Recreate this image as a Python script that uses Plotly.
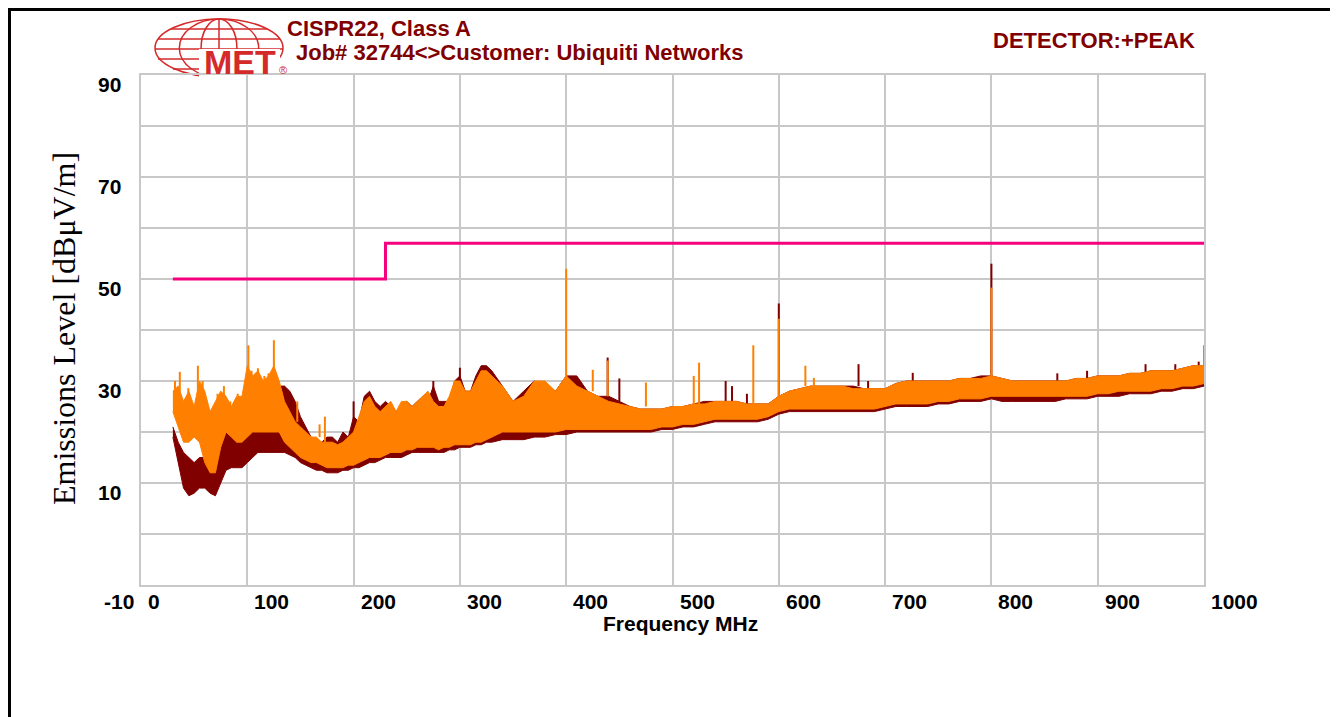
import plotly.graph_objects as go

# ---------------- data ----------------
freq_mhz = [30, 35, 40, 45, 50, 55, 60, 65, 70, 75, 80, 85, 90, 95, 100, 105, 110, 115, 120, 125,
            130, 135, 140, 145, 150, 155, 160, 165, 170, 175, 180, 185, 190, 195, 200, 205, 210, 215,
            220, 225, 230, 235, 240, 245, 250, 255, 260, 265, 270, 275, 280, 285, 290, 295, 300, 305,
            310, 315, 320, 325, 330,
            340, 350, 360, 370, 380, 390, 400, 410, 420, 430, 440, 450, 460, 470, 480, 490, 500, 510,
            520, 530, 540, 550, 560, 570, 580, 590, 600, 610, 620, 630, 640, 650, 660, 670, 680, 690,
            700, 710, 720, 730, 740, 750, 760, 770, 780, 790, 800, 810, 820, 830, 840, 850, 860, 870,
            880, 890, 900, 910, 920, 930, 940, 950, 960, 970, 980, 990, 1000]

orange_top = [28, 29, 26, 28, 25, 30, 28, 24, 26, 28, 27, 25, 27, 27, 33, 31, 32, 30, 31, 33,
              30, 26, 24, 22, 21, 20, 19, 19, 18, 18, 18, 17.5, 18, 19, 20, 23, 26, 27,
              25, 24, 25, 26, 24, 26, 26, 25, 26, 27, 28, 26, 25, 25, 27, 30, 30, 28,
              28, 30, 32, 32, 31,
              29, 26, 27, 30, 30, 28, 31, 29, 28, 27, 26, 25.5, 25, 24.5, 24.5, 24.5, 25, 25,
              25.5, 25.5, 26, 26, 26, 25.5, 25.5, 25.5, 27, 28, 28.5, 29, 29, 29, 29, 28.5, 28.5, 28.5,
              28.5, 29.5, 30, 30, 30, 30, 30, 30.5, 30.5, 30.5, 31, 30.5, 30, 30, 30, 30, 30, 30,
              30.5, 30.5, 31, 31, 31, 31.5, 31.5, 32, 32, 32, 32.5, 33, 33]

orange_bot = [24, 21, 18, 18, 19, 18, 14, 12, 12, 17, 20, 19, 18, 18, 19, 20, 20, 20, 20, 20,
              20, 18, 17, 16, 15, 14.5, 14, 14, 13.5, 13, 13, 13, 13, 13.5, 13.5, 14, 14.5, 15,
              15, 15, 15.5, 16, 16, 16, 16.5, 16.5, 17, 17, 17, 17, 16.5, 17, 17, 17.5, 17.5, 17.5,
              17.5, 18, 18, 18.5, 19,
              20, 20, 20, 20, 20, 20, 20.5, 20.5, 20.5, 20.5, 20.5, 20.5, 20.5, 20.5, 20.5, 21, 21, 21.5,
              21.5, 22, 22.5, 22.5, 22.5, 22.5, 22.5, 23, 24, 24.5, 24.5, 24.5, 24.5, 24.5, 24.5, 24.5, 24.5, 24.5,
              25, 25.5, 25.5, 25.5, 25.5, 26, 26, 26.5, 26.5, 26.5, 27, 27, 27, 27, 27, 27, 27, 27,
              27, 27, 27.5, 27.5, 28, 28, 28, 28, 28.5, 28.5, 29, 29, 29.5]

darkred_top = [21, 18, 16, 15, 14, 15, 15, 17, 18, 18, 20, 21, 21, 21, 21, 24, 26, 27, 26, 27,
               29, 29, 28, 26, 23, 21, 19, 18, 18, 19, 19, 18, 20, 19, 23, 22, 27, 28,
               26, 25, 26, 25, 24, 25, 26, 25, 26, 27, 26, 29, 26, 26, 26, 30, 31, 28,
               28, 31, 33, 33, 32,
               29, 26, 28, 30, 29, 28, 31, 31, 28, 27, 27, 26, 25, 24.5, 24.5, 24.5, 25, 25,
               25.5, 26, 26, 26, 26, 25.5, 25.5, 25.5, 27, 28, 28.5, 29, 29, 29, 29, 29, 28.5, 28.5,
               28.5, 29.5, 30, 30, 30, 30, 30, 30.5, 30.5, 31, 31, 30.5, 30, 30, 30, 30, 30, 30,
               30.5, 30.5, 31, 31, 31, 31.5, 31.5, 32, 32, 32, 32.5, 33, 33]

darkred_bot = [19, 14, 9, 7.5, 8, 9, 9, 8, 7.5, 10, 12.5, 13, 13, 13, 14, 15, 16, 16, 16, 16,
               16, 16, 15.5, 15, 14, 13.5, 13, 12.5, 12.5, 12, 12, 12, 12.5, 12.5, 13, 13, 13.5, 14,
               14, 14.5, 15, 15, 15, 15, 15.5, 16, 16, 16, 16, 16, 16, 16, 16.5, 16.5, 17, 17,
               17, 17.5, 17.5, 18, 18,
               18.5, 18.5, 18.5, 19, 19, 19.5, 19.5, 20, 20, 20, 20, 20, 20, 20, 20, 20.5, 20.5, 21,
               21, 21.5, 22, 22, 22, 22, 22, 22.5, 23.5, 24, 24, 24, 24, 24, 24, 24, 24, 24,
               24.5, 25, 25, 25, 25, 25.5, 25.5, 26, 26, 26, 26.5, 26, 26, 26, 26, 26, 26, 26.5,
               26.5, 26.5, 27, 27, 27, 27.5, 27.5, 27.5, 28, 28, 28.5, 28.5, 29]

# narrow emission spikes (frequency, spike base, spike peak)
orange_spike_freq = [32, 36.5, 44.5, 53.5, 58, 72, 78, 84, 91, 101, 104, 110, 116, 120, 125,
                     147, 168, 173, 400, 425, 439, 475, 520, 525, 576, 600, 625, 633, 800, 1000]
orange_spike_base = [26, 26, 25, 25, 26, 24, 25, 24, 25, 30, 29, 29, 28, 29, 30,
                     22, 19, 18, 30, 28, 27, 25, 25, 25.5, 25.5, 26, 29, 29, 30, 33]
orange_spike_peak = [30, 31.8, 28.6, 33, 30, 27.5, 29, 26, 27.5, 37, 32, 32.5, 31, 31.5, 38,
                     26, 21.5, 23, 52, 32.2, 34, 29.7, 31, 33.6, 37, 42.2, 33, 30.6, 48.3, 37]

darkred_spike_freq = [200, 275, 300, 439, 450, 550, 556, 570, 600, 675, 684, 726, 800,
                      862, 890, 945, 973, 995]
darkred_spike_base = [20, 26, 30, 27, 26, 26, 26, 25.5, 26, 29, 28.5, 30, 30,
                      30, 30.5, 31.5, 32, 33]
darkred_spike_peak = [26, 30, 32.6, 34.6, 30.5, 30, 29, 27.5, 45.2, 33.3, 30, 31.6, 53,
                      31.5, 32, 33.3, 33.3, 33.8]

# CISPR22 Class A limit
limit_freq = [30, 230, 230, 1000]
limit_level = [50, 50, 57, 57]

# axis ticks
x_ticks = [0, 100, 200, 300, 400, 500, 600, 700, 800, 900, 1000]
y_ticks = [90, 70, 50, 30, 10]

# ---------------- styling / layout helpers ----------------
FIG_W, FIG_H = 1338, 717
OFF = 8  # page body margin: screen pixel = figure pixel + OFF
L, R, T, B = 141 - OFF, 1204 - OFF, 75 - OFF, 585 - OFF
PW, PH = R - L, B - T

def px(xs):
    """screen x pixel -> paper fraction"""
    return (xs - OFF - L) / PW

def py(ys):
    """screen y pixel -> paper fraction"""
    return (B - (ys - OFF)) / PH

DARKRED = "#800000"
ORANGE = "#FF8000"
LIMIT = "#F5007F"
TITLE_RED = "#800000"
GRID = "#C8C8C8"
LOGO_RED = "#D42A2A"


def spikes(freqs, bases, peaks):
    xs, ys = [], []
    for f, b, p in zip(freqs, bases, peaks):
        xs += [f, f, None]
        ys += [b, p, None]
    return xs, ys


fig = go.Figure()

# dark red band
fig.add_trace(go.Scatter(x=freq_mhz, y=darkred_bot, mode="lines",
                         line=dict(color=DARKRED, width=1), hoverinfo="skip", showlegend=False))
fig.add_trace(go.Scatter(x=freq_mhz, y=darkred_top, mode="lines", fill="tonexty",
                         fillcolor=DARKRED, line=dict(color=DARKRED, width=1),
                         hoverinfo="skip", showlegend=False))
sx, sy = spikes(darkred_spike_freq, darkred_spike_base, darkred_spike_peak)
fig.add_trace(go.Scatter(x=sx, y=sy, mode="lines", line=dict(color=DARKRED, width=2),
                         hoverinfo="skip", showlegend=False))

# orange band
fig.add_trace(go.Scatter(x=freq_mhz, y=orange_bot, mode="lines",
                         line=dict(color=ORANGE, width=1), hoverinfo="skip", showlegend=False))
fig.add_trace(go.Scatter(x=freq_mhz, y=orange_top, mode="lines", fill="tonexty",
                         fillcolor=ORANGE, line=dict(color=ORANGE, width=1),
                         hoverinfo="skip", showlegend=False))
sx, sy = spikes(orange_spike_freq, orange_spike_base, orange_spike_peak)
fig.add_trace(go.Scatter(x=sx, y=sy, mode="lines", line=dict(color=ORANGE, width=2),
                         hoverinfo="skip", showlegend=False))

# limit line
fig.add_trace(go.Scatter(x=limit_freq, y=limit_level, mode="lines",
                         line=dict(color=LIMIT, width=3), hoverinfo="skip", showlegend=False))

annotations = []
tick_font = dict(family="Liberation Sans, Arial", size=21, color="black")
for v in x_ticks:
    annotations.append(dict(x=v, y=0, xref="x", yref="paper", text=f"<b>{v}</b>",
                            showarrow=False, xanchor="left", yanchor="middle",
                            xshift=5, yshift=-16, font=tick_font))
for v in y_ticks:
    annotations.append(dict(x=px(123), y=v, xref="paper", yref="y", text=f"<b>{v}</b>",
                            showarrow=False, xanchor="right", yanchor="middle",
                            yshift=-9, font=tick_font))
annotations.append(dict(x=px(136), y=-10, xref="paper", yref="y", text="<b>-10</b>",
                        showarrow=False, xanchor="right", yanchor="middle",
                        yshift=-16, font=tick_font))

annotations.append(dict(x=px(680), y=py(623), xref="paper", yref="paper",
                        text="<b>Frequency MHz</b>", showarrow=False,
                        xanchor="center", yanchor="middle",
                        font=dict(family="Liberation Sans, Arial", size=21, color="black")))
annotations.append(dict(x=px(64), y=py(329), xref="paper", yref="paper",
                        text="Emissions Level [dBμV/m]", showarrow=False, textangle=-90,
                        xanchor="center", yanchor="middle",
                        font=dict(family="Liberation Serif, Times New Roman", size=32, color="black")))

title_font = dict(family="Liberation Sans, Arial", size=22, color=TITLE_RED)
annotations.append(dict(x=px(285), y=py(28), xref="paper", yref="paper",
                        text="<b>CISPR22, Class A</b>", showarrow=False,
                        xanchor="left", yanchor="middle", font=title_font))
annotations.append(dict(x=px(294), y=py(53), xref="paper", yref="paper",
                        text="<b>Job# 32744&lt;&gt;Customer: Ubiquiti Networks</b>", showarrow=False,
                        xanchor="left", yanchor="middle", font=title_font))
annotations.append(dict(x=px(991), y=py(40), xref="paper", yref="paper",
                        text="<b>DETECTOR:+PEAK</b>", showarrow=False,
                        xanchor="left", yanchor="middle", font=title_font))

# MET logo text
annotations.append(dict(x=px(240), y=py(62), xref="paper", yref="paper",
                        text="<b>MET</b>", showarrow=False, xanchor="center", yanchor="middle",
                        font=dict(family="Liberation Sans, Arial", size=34, color=LOGO_RED)))
annotations.append(dict(x=px(283), y=py(70), xref="paper", yref="paper",
                        text="®", showarrow=False, xanchor="center", yanchor="middle",
                        font=dict(family="Liberation Sans, Arial", size=11, color=LOGO_RED)))

shapes = []
# outer page frame
shapes.append(dict(type="rect", xref="paper", yref="paper",
                   x0=px(9.5), x1=px(1332.5), y0=py(760), y1=py(9.5),
                   line=dict(color="black", width=3), layer="above"))
# globe logo (decorative)
gx0, gx1, gy0, gy1 = 155, 283, 19, 77
cx = (gx0 + gx1) / 2
for frac in (1.0, 0.62, 0.28):
    hw = (gx1 - gx0) / 2 * frac
    shapes.append(dict(type="circle", xref="paper", yref="paper",
                       x0=px(cx - hw), x1=px(cx + hw), y0=py(gy1), y1=py(gy0),
                       line=dict(color=LOGO_RED, width=1.5), layer="below"))
shapes.append(dict(type="line", xref="paper", yref="paper",
                   x0=px(cx), x1=px(cx), y0=py(gy1), y1=py(gy0),
                   line=dict(color=LOGO_RED, width=1.5), layer="below"))
for yy, half in ((29, 48), (39, 61), (49, 64), (59, 61), (69, 46)):
    shapes.append(dict(type="line", xref="paper", yref="paper",
                       x0=px(cx - half), x1=px(cx + half), y0=py(yy), y1=py(yy),
                       line=dict(color=LOGO_RED, width=1.5), layer="below"))
# white backing behind MET letters
shapes.append(dict(type="rect", xref="paper", yref="paper",
                   x0=px(199), x1=px(280), y0=py(78), y1=py(49),
                   fillcolor="white", line=dict(width=0), layer="below"))

fig.update_layout(
    width=FIG_W, height=FIG_H, autosize=False,
    margin=dict(l=L, r=FIG_W - R, t=T, b=FIG_H - B, pad=0),
    paper_bgcolor="white", plot_bgcolor="white",
    showlegend=False,
    annotations=annotations, shapes=shapes,
    xaxis=dict(range=[0, 1000], tickmode="array", tickvals=x_ticks, showticklabels=False,
               ticks="", showgrid=True, gridcolor=GRID, gridwidth=2, zeroline=False,
               showline=True, mirror=True, linecolor=GRID, linewidth=2, fixedrange=True),
    yaxis=dict(range=[-10, 90], tickmode="linear", tick0=-10, dtick=10, showticklabels=False,
               ticks="", showgrid=True, gridcolor=GRID, gridwidth=2, zeroline=False,
               showline=True, mirror=True, linecolor=GRID, linewidth=2, fixedrange=True),
)

fig.write_html("out.html")
